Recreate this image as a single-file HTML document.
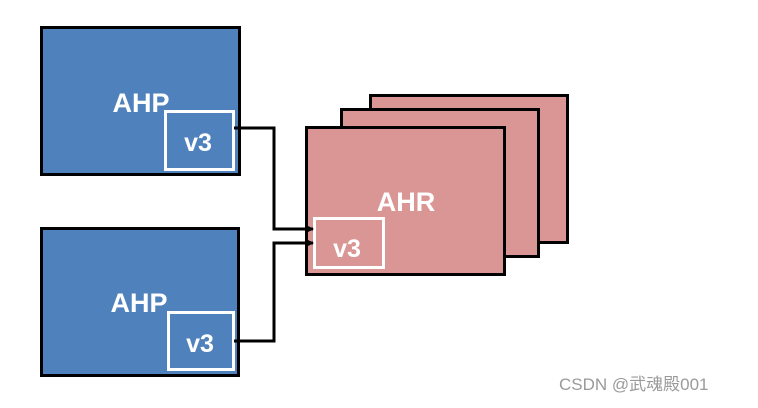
<!DOCTYPE html>
<html><head><style>body{margin:0;background:#fff}</style></head><body>
<svg width="758" height="403" xmlns="http://www.w3.org/2000/svg" font-family="Liberation Sans, sans-serif" font-weight="bold">
<defs><marker id="a" markerWidth="8" markerHeight="8" refX="7" refY="4" orient="auto" markerUnits="userSpaceOnUse"><path d="M0,0 L8,4 L0,8 z" fill="#000"/></marker></defs>
<rect x="41.5" y="27.5" width="198" height="147" fill="#4f81bd" stroke="#000" stroke-width="3"/>
<text x="141" y="112" font-size="27" fill="#fff" text-anchor="middle">AHP</text>
<rect x="165.5" y="111.5" width="68" height="58" fill="#4f81bd" stroke="#fff" stroke-width="3"/>
<text x="198" y="151" font-size="25" fill="#fff" text-anchor="middle">v3</text>
<rect x="41.5" y="228.5" width="197" height="147" fill="#4f81bd" stroke="#000" stroke-width="3"/>
<text x="139" y="312" font-size="27" fill="#fff" text-anchor="middle">AHP</text>
<rect x="168.5" y="312.5" width="65" height="57" fill="#4f81bd" stroke="#fff" stroke-width="3"/>
<text x="200" y="352" font-size="25" fill="#fff" text-anchor="middle">v3</text>
<rect x="370.5" y="95.5" width="197" height="147" fill="#d99694" stroke="#000" stroke-width="3"/>
<rect x="341.5" y="109.5" width="197" height="147" fill="#d99694" stroke="#000" stroke-width="3"/>
<rect x="306.5" y="127.5" width="198" height="147" fill="#d99694" stroke="#000" stroke-width="3"/>
<text x="406" y="211" font-size="27" fill="#fff" text-anchor="middle">AHR</text>
<rect x="314.5" y="218.5" width="69" height="49" fill="#d99694" stroke="#fff" stroke-width="3"/>
<text x="347" y="257" font-size="25" fill="#fff" text-anchor="middle">v3</text>
<path d="M234,128 H274 V229 H313" fill="none" stroke="#000" stroke-width="3" marker-end="url(#a)"/>
<path d="M234,341 H274 V243 H313" fill="none" stroke="#000" stroke-width="3" marker-end="url(#a)"/>
<text x="559" y="390" font-size="17" font-weight="normal" fill="#9a9a9a" font-family="Liberation Sans, Noto Sans CJK SC, sans-serif">CSDN @武魂殿001</text>
</svg>
</body></html>
